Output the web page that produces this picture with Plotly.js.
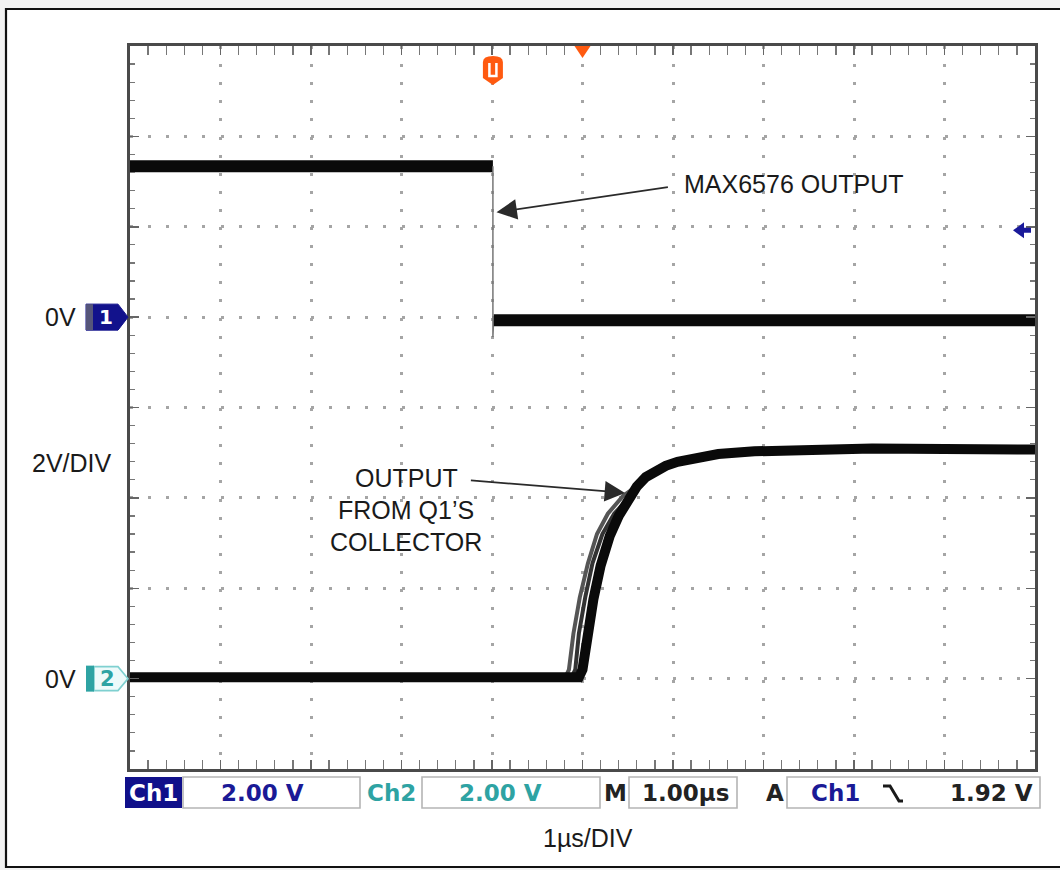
<!DOCTYPE html>
<html><head><meta charset="utf-8">
<script src="https://cdn.plot.ly/plotly-3.0.1.min.js"></script>
<style>html,body{margin:0;padding:0;background:#fff}#chart{width:1060px;height:870px}</style>
</head><body><div id="chart"></div>
<script>
// time in µs (screen centre = 0), voltages in V (2 V/div)
const ch1HighTime = [-5, -0.99];
const ch1HighVolts = [3.34, 3.34];
const ch1EdgeTime = [-0.99, -0.99, -0.985, -0.97];
const ch1EdgeVolts = [3.34, -0.44, -0.2, -0.07];
const ch1LowTime = [-0.98, 5];
const ch1LowVolts = [-0.07, -0.07];

const ch2Time = [-5, -0.04, 0.0, 0.05, 0.12, 0.2, 0.3, 0.4, 0.5, 0.6, 0.7, 0.8, 0.92, 1.05, 1.25, 1.5, 1.9, 2.5, 3.2, 4.0, 5.0];
const ch2Volts = [0.03, 0.03, 0.2, 0.9, 1.75, 2.5, 3.15, 3.6, 3.98, 4.25, 4.46, 4.6, 4.71, 4.8, 4.9, 4.97, 5.03, 5.07, 5.09, 5.08, 5.07];
const ch2StrandATime = [-0.19, -0.15, -0.1, -0.03, 0.06, 0.16, 0.28, 0.45, 0.62];
const ch2StrandAVolts = [0.03, 0.2, 1.0, 1.8, 2.55, 3.2, 3.65, 4.05, 4.29];
const ch2StrandBTime = [-0.12, -0.08, -0.04, 0.03, 0.11, 0.22, 0.35, 0.5];
const ch2StrandBVolts = [0.03, 0.2, 1.0, 1.8, 2.55, 3.2, 3.65, 3.97];

const triggerTime = -0.99;
const triggerLevel = 1.92;

const statusTexts = ['Ch1', '2.00 V', 'Ch2', '2.00 V', 'M', '1.00µs', 'A', 'Ch1', '1.92 V'];
const annotationTexts = ['MAX6576 OUTPUT', 'OUTPUT', 'FROM Q1\u2019S', 'COLLECTOR'];
const sideLabels = ['0V', '2V/DIV', '0V', '1µs/DIV'];

// pixel helpers for layout placement
const PL = 130, PT = 46, PW = 905, PH = 723;
const px = x => (x - PL) / PW;
const py = y => (PT + PH - y) / PH;

const NAVY = '#1a1a96', TEAL = '#2ea3a3';

function seg(x, y, yaxis, w, color) {
  return {x: x, y: y, yaxis: yaxis, type: 'scatter', mode: 'lines', hoverinfo: 'skip',
          line: {color: color, width: w, shape: 'linear'}, showlegend: false};
}

const traces = [
  seg(ch1HighTime, ch1HighVolts, 'y', 12, '#0a0a0a'),
  seg(ch1EdgeTime, ch1EdgeVolts, 'y', 1.5, '#777'),
  seg(ch1LowTime, ch1LowVolts, 'y', 12, '#0a0a0a'),
  seg(ch2StrandATime, ch2StrandAVolts, 'y2', 4, '#555'),
  seg(ch2StrandBTime, ch2StrandBVolts, 'y2', 4, '#333'),
  seg(ch2Time, ch2Volts, 'y2', 10, '#0a0a0a')
];

const labelFont = {family: 'Liberation Sans, Arial, sans-serif', size: 25, color: '#1a1a1a'};
const statFont = (c) => ({family: 'DejaVu Sans, sans-serif', size: 23, color: c, weight: 'bold'});

function ptxt(x, y, text, font, xanchor) {
  return {xref: 'paper', yref: 'paper', x: px(x), y: py(y), text: text, showarrow: false,
          font: font, xanchor: xanchor || 'center', yanchor: 'middle'};
}

const annotations = [
  // side labels
  {xref: 'paper', yref: 'y', x: px(78), y: 0, text: sideLabels[0], showarrow: false, font: labelFont, xanchor: 'right', yanchor: 'middle'},
  ptxt(72, 463, sideLabels[1], labelFont),
  {xref: 'paper', yref: 'y2', x: px(78), y: 0, text: sideLabels[2], showarrow: false, font: labelFont, xanchor: 'right', yanchor: 'middle'},
  ptxt(588, 838, sideLabels[3], labelFont),
  // channel marker digits
  {xref: 'paper', yref: 'y', x: px(106), y: 0, text: '1', showarrow: false, font: {family: 'DejaVu Sans', size: 20, color: '#fff', weight: 'bold'}, xanchor: 'center', yanchor: 'middle'},
  {xref: 'paper', yref: 'y2', x: px(107), y: 0, text: '2', showarrow: false, font: {family: 'DejaVu Sans', size: 21, color: TEAL, weight: 'bold'}, xanchor: 'center', yanchor: 'middle'},
  // callout texts
  {xref: 'x', yref: 'y', x: 1.1, y: 2.94, text: annotationTexts[0], showarrow: false, font: labelFont, xanchor: 'left', yanchor: 'middle'},
  {xref: 'x', yref: 'y2', x: -1.95, y: 4.44, text: annotationTexts[1], showarrow: false, font: labelFont, xanchor: 'center', yanchor: 'middle'},
  {xref: 'x', yref: 'y2', x: -1.95, y: 3.73, text: annotationTexts[2], showarrow: false, font: labelFont, xanchor: 'center', yanchor: 'middle'},
  {xref: 'x', yref: 'y2', x: -1.95, y: 3.02, text: annotationTexts[3], showarrow: false, font: labelFont, xanchor: 'center', yanchor: 'middle'},
  // arrows
  {xref: 'x', yref: 'y', x: -0.95, y: 2.32, axref: 'x', ayref: 'y', ax: 0.96, ay: 2.88, text: '', showarrow: true,
   arrowhead: 2, arrowsize: 2.4, arrowwidth: 1.7, arrowcolor: '#2a2a2a', standoff: 0},
  {xref: 'x', yref: 'y2', x: 0.47, y: 4.11, axref: 'x', ayref: 'y2', ax: -1.25, ay: 4.39, text: '', showarrow: true,
   arrowhead: 2, arrowsize: 2.4, arrowwidth: 1.7, arrowcolor: '#2a2a2a', standoff: 0},
  // status bar
  ptxt(153, 793, statusTexts[0], statFont('#ffffff')),
  ptxt(262, 793, statusTexts[1], statFont(NAVY)),
  ptxt(391, 793, statusTexts[2], statFont(TEAL)),
  ptxt(500, 793, statusTexts[3], statFont(TEAL)),
  ptxt(615, 793, statusTexts[4], statFont('#222')),
  ptxt(685, 793, statusTexts[5], statFont('#222')),
  ptxt(775, 793, statusTexts[6], statFont('#222')),
  ptxt(835, 793, statusTexts[7], statFont(NAVY)),
  ptxt(1035, 793, statusTexts[8], statFont('#222'), 'right')
];

function prect(x0, y0, x1, y1, fill, line, lw, layer) {
  return {type: 'rect', xref: 'paper', yref: 'paper', x0: px(x0), x1: px(x1), y0: py(y1), y1: py(y0),
          fillcolor: fill, line: {color: line || 'rgba(0,0,0,0)', width: lw || 0}, layer: layer || 'above'};
}
function pixPath(xref, xa, yref, ya, path, fill, line, lw) {
  return {type: 'path', xref: xref, yref: yref, xsizemode: 'pixel', ysizemode: 'pixel',
          xanchor: xa, yanchor: ya, path: path, fillcolor: fill || 'rgba(0,0,0,0)',
          line: {color: line || 'rgba(0,0,0,0)', width: lw || 0}, layer: 'above'};
}

const shapes = [
  // outer page background strips and frame
  prect(0, 0, 1060, 8, '#f2f2f2', null, 0, 'below'),
  prect(0, 0, 5, 870, '#f2f2f2', null, 0, 'below'),
  prect(0, 868, 1060, 870, '#f2f2f2', null, 0, 'below'),
  prect(6, 9, 1068, 867, 'rgba(0,0,0,0)', '#111', 2.2, 'below'),
  // status bar boxes
  prect(125, 777, 182, 808, '#10108a', null, 0),
  prect(183, 777, 360, 808, 'rgba(0,0,0,0)', '#b5b5b5', 1.6),
  prect(422, 777, 600, 808, 'rgba(0,0,0,0)', '#b5b5b5', 1.6),
  prect(629, 777, 737, 808, 'rgba(0,0,0,0)', '#b5b5b5', 1.6),
  prect(787, 777, 1040, 808, 'rgba(0,0,0,0)', '#b5b5b5', 1.6),
  // falling slope symbol
  pixPath('paper', px(894), 'paper', py(793), 'M-11,7L-4,7L5,-8L9,-8', null, '#1a1a1a', 3),
  // Ch1 ground marker
  pixPath('paper', 0, 'y', 0, 'M-44,13L-12,13L-2,0L-12,-13L-44,-13Z', '#12128c', '#12128c', 1),
  pixPath('paper', 0, 'y', 0, 'M-44,13L-37,13L-37,-13L-44,-13Z', '#55557a', null, 0),
  // Ch2 ground marker
  pixPath('paper', 0, 'y2', 0, 'M-36,12L-12,12L-2,0L-12,-12L-36,-12Z', '#eefafa', '#7fd0d0', 1.6),
  pixPath('paper', 0, 'y2', 0, 'M-44,13L-36,13L-36,-13L-44,-13Z', TEAL, null, 0),
  // horizontal position marker (top centre)
  pixPath('x', 0, 'paper', 1, 'M-8,0L8,0L0,-12Z', '#ff5a10', null, 0),
  // trigger point marker
  pixPath('x', triggerTime, 'paper', 1,
          'M-10,-16Q-10,-10 0,-10Q10,-10 10,-16L10,-32L0,-39L-10,-32Z', '#ff5a10', null, 0),
  pixPath('x', triggerTime, 'paper', 1, 'M-3.5,-17L-3.5,-30L3.5,-30L3.5,-17', null, '#fff', 2.5),
  // trigger level arrow (right edge)
  pixPath('x', 5, 'y', triggerLevel, 'M-22,0L-11,8L-11,2.5L-4,2.5L-4,-2.5L-11,-2.5L-11,-8Z', '#1a1a9a', null, 0)
];

const axBase = {
  showgrid: true, gridcolor: '#a5a5a5', gridwidth: 3, griddash: '3px,15.1px',
  zeroline: false, showline: true, linecolor: '#4a4a4a', linewidth: 3, mirror: 'allticks',
  ticks: 'inside', ticklen: 9, tickwidth: 1.5, tickcolor: '#666', showticklabels: false,
  fixedrange: true
};

const layout = {
  width: 1060, height: 870,
  margin: {l: PL, r: 1060 - PL - PW, t: PT, b: 870 - PT - PH},
  paper_bgcolor: '#ffffff', plot_bgcolor: '#ffffff',
  showlegend: false,
  xaxis: Object.assign({}, axBase, {range: [-5, 5], tick0: 0, dtick: 1,
          minor: {dtick: 0.2, ticks: 'inside', ticklen: 5, tickwidth: 1.3, tickcolor: '#777', showgrid: false}}),
  yaxis: Object.assign({}, axBase, {range: [-10, 6], tick0: 0, dtick: 2,
          minor: {dtick: 0.4, ticks: 'inside', ticklen: 5, tickwidth: 1.3, tickcolor: '#777', showgrid: false}}),
  yaxis2: {overlaying: 'y', range: [-2, 14], visible: false, fixedrange: true},
  annotations: annotations,
  shapes: shapes
};

Plotly.newPlot('chart', traces, layout, {displayModeBar: false, staticPlot: true});
</script>
</body></html>
